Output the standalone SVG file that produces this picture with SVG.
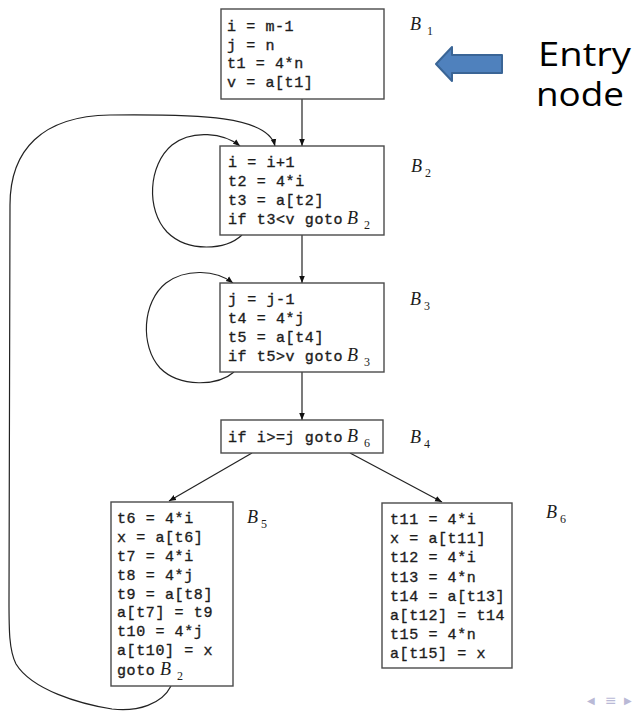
<svg xmlns="http://www.w3.org/2000/svg" width="640" height="711" viewBox="0 0 640 711">
  <defs>
    <marker id="ah" viewBox="0 0 10 10" refX="10" refY="5" markerWidth="7" markerHeight="7" markerUnits="userSpaceOnUse" orient="auto">
      <path d="M0,1 L10,5 L0,9 Z" fill="#111"/>
    </marker>
    <style>
      .box { fill: #fff; stroke: #4a4a4a; stroke-width: 1.4; }
      .code { font-family: "Liberation Mono", "Courier New", monospace; font-size: 15px; letter-spacing: 0.6px; fill: #1c1c1c; stroke: #1c1c1c; stroke-width: 0.35; }
      .lbl { font-family: "Liberation Serif", "Times New Roman", serif; font-style: italic; font-size: 18px; fill: #1c1c1c; }
      .sub { font-family: "Liberation Serif", "Times New Roman", serif; font-size: 12px; fill: #1c1c1c; }
      .edge { fill: none; stroke: #222; stroke-width: 1.2; marker-end: url(#ah); }
      .big { font-family: "Open Sans", "Liberation Sans", sans-serif; font-size: 32px; fill: #000; }
      .nav { font-family: "DejaVu Sans", sans-serif; fill: #b9b9d6; }
    </style>
  </defs>

  <rect width="640" height="711" fill="#fff"/>

  <g id="edges">
    <path class="edge" d="M302,99 L302,146"/>
    <path class="edge" d="M302,235 L302,283"/>
    <path class="edge" d="M302,372 L302,420"/>
    <path class="edge" d="M252,453 L169,501"/>
    <path class="edge" d="M350,453 L442,502"/>
    <!-- self loop on B2 -->
    <path class="edge" d="M242,235 C226,250 188,253 167,232 C146,210 148,165 172,145 C192,129 224,133 240,146"/>
    <!-- self loop on B3 -->
    <path class="edge" d="M234,372 C218,386 180,388 160,368 C140,346 142,302 166,283 C186,268 216,270 233,283"/>
    <!-- back edge B5 to B2 -->
    <path class="edge" d="M171,686 C162,704 138,712 112,709 C80,704 32,690 16,664 C9,650 9,630 9,600 L10,205 C10,150 42,116 110,115 C200,114 268,116 275,146"/>
  </g>

  <g id="B1">
    <rect class="box" x="221" y="9" width="163" height="90"/>
    <text class="code" x="227" y="31">i = m-1</text>
    <text class="code" x="227" y="50">j = n</text>
    <text class="code" x="227" y="68">t1 = 4*n</text>
    <text class="code" x="227" y="87">v = a[t1]</text>
    <text class="lbl" x="410" y="30">B</text>
    <text class="sub" x="427" y="35">1</text>
  </g>

  <g id="B2">
    <rect class="box" x="220" y="146" width="164" height="89"/>
    <text class="code" x="228" y="167">i = i+1</text>
    <text class="code" x="228" y="186">t2 = 4*i</text>
    <text class="code" x="228" y="205">t3 = a[t2]</text>
    <text class="code" x="228" y="224">if t3&lt;v goto</text>
    <text class="lbl" x="347" y="224">B</text>
    <text class="sub" x="364" y="229">2</text>
    <text class="lbl" x="411" y="172">B</text>
    <text class="sub" x="425" y="177">2</text>
  </g>

  <g id="B3">
    <rect class="box" x="220" y="283" width="164" height="89"/>
    <text class="code" x="228" y="304">j = j-1</text>
    <text class="code" x="228" y="323">t4 = 4*j</text>
    <text class="code" x="228" y="342">t5 = a[t4]</text>
    <text class="code" x="228" y="361">if t5&gt;v goto</text>
    <text class="lbl" x="347" y="361">B</text>
    <text class="sub" x="364" y="366">3</text>
    <text class="lbl" x="410" y="305">B</text>
    <text class="sub" x="424" y="310">3</text>
  </g>

  <g id="B4">
    <rect class="box" x="221" y="420" width="162" height="33"/>
    <text class="code" x="228" y="442">if i&gt;=j goto</text>
    <text class="lbl" x="347" y="442">B</text>
    <text class="sub" x="364" y="447">6</text>
    <text class="lbl" x="410" y="443">B</text>
    <text class="sub" x="424" y="448">4</text>
  </g>

  <g id="B5">
    <rect class="box" x="111" y="502" width="122" height="184"/>
    <text class="code" x="117" y="523">t6 = 4*i</text>
    <text class="code" x="117" y="542">x = a[t6]</text>
    <text class="code" x="117" y="561">t7 = 4*i</text>
    <text class="code" x="117" y="580">t8 = 4*j</text>
    <text class="code" x="117" y="599">t9 = a[t8]</text>
    <text class="code" x="117" y="617">a[t7] = t9</text>
    <text class="code" x="117" y="636">t10 = 4*j</text>
    <text class="code" x="117" y="655">a[t10] = x</text>
    <text class="code" x="117" y="675">goto</text>
    <text class="lbl" x="160" y="675">B</text>
    <text class="sub" x="177" y="680">2</text>
    <text class="lbl" x="247" y="523">B</text>
    <text class="sub" x="261" y="528">5</text>
  </g>

  <g id="B6">
    <rect class="box" x="382" y="503" width="130" height="165"/>
    <text class="code" x="390" y="524">t11 = 4*i</text>
    <text class="code" x="390" y="543">x = a[t11]</text>
    <text class="code" x="390" y="562">t12 = 4*i</text>
    <text class="code" x="390" y="582">t13 = 4*n</text>
    <text class="code" x="390" y="601">t14 = a[t13]</text>
    <text class="code" x="390" y="620">a[t12] = t14</text>
    <text class="code" x="390" y="639">t15 = 4*n</text>
    <text class="code" x="390" y="658">a[t15] = x</text>
    <text class="lbl" x="546" y="518">B</text>
    <text class="sub" x="560" y="523">6</text>
  </g>

  <g id="entry">
    <path d="M436,64 L452,47 L452,55 L502,55 L502,73 L452,73 L452,81 Z" fill="#4f81bd" stroke="#3a6596" stroke-width="2" stroke-linejoin="round"/>
    <text class="big" x="538" y="66" textLength="93" lengthAdjust="spacingAndGlyphs">Entry</text>
    <text class="big" x="536" y="106" textLength="88" lengthAdjust="spacingAndGlyphs">node</text>
  </g>

  <g id="nav">
    <text class="nav" x="587" y="704" font-size="10">◀</text>
    <text class="nav" x="605" y="705" font-size="14">≡</text>
    <text class="nav" x="624" y="704" font-size="10">▶</text>
  </g>
</svg>
